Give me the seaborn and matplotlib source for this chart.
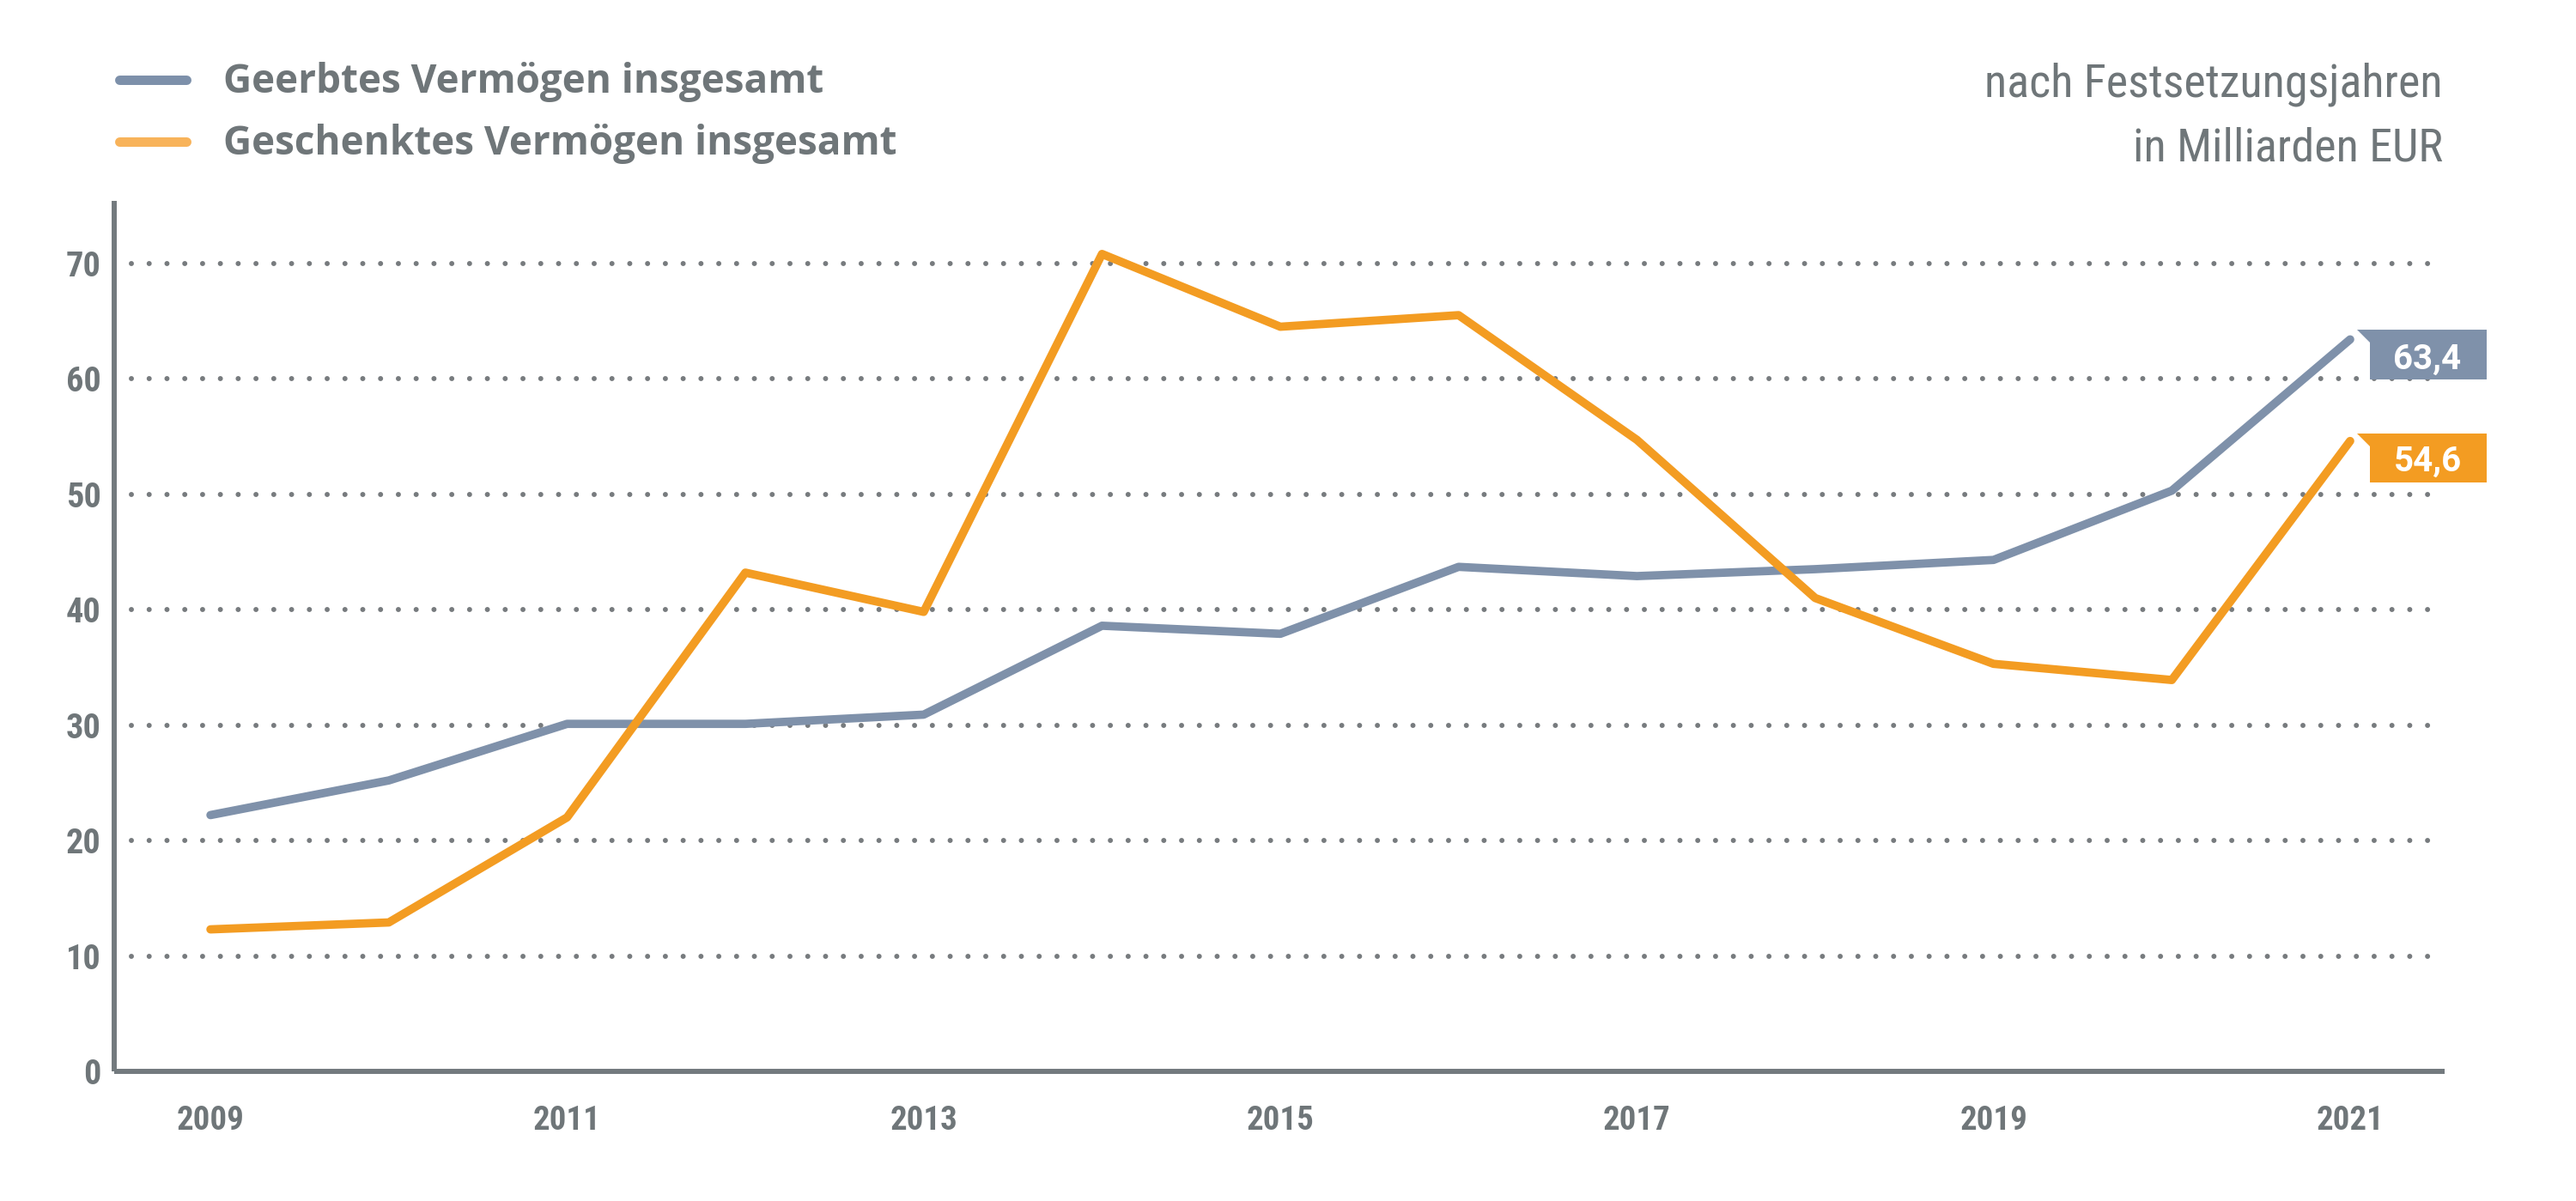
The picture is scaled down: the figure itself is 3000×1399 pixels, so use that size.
import matplotlib
matplotlib.use("Agg")
import matplotlib.pyplot as plt
import matplotlib.font_manager as fm
import matplotlib.transforms as mtransforms
from matplotlib.patches import Polygon
from matplotlib.lines import Line2D
import seaborn as sns
import pandas as pd

# ---------------- data ----------------
years = [2009, 2010, 2011, 2012, 2013, 2014, 2015, 2016, 2017, 2018, 2019, 2020, 2021]
geerbt = [22.2, 25.2, 30.1, 30.1, 30.9, 38.6, 37.9, 43.7, 42.9, 43.5, 44.3, 50.3, 63.4]
geschenkt = [12.3, 12.9, 22.0, 43.2, 39.8, 70.8, 64.5, 65.5, 54.7, 41.0, 35.3, 33.9, 54.6]
series_names = ["Geerbtes Vermögen insgesamt", "Geschenktes Vermögen insgesamt"]
end_labels = ["63,4", "54,6"]
xticks = [2009, 2011, 2013, 2015, 2017, 2019, 2021]
yticks = [0, 10, 20, 30, 40, 50, 60, 70]
note_lines = ["nach Festsetzungsjahren", "in Milliarden EUR"]

BLUE = "#7f91aa"
ORANGE = "#f39c22"
BLUE_L = "#7d90aa"
ORANGE_L = "#f8b35a"
GRAY = "#6f7679"
AXIS = "#737a7e"
DOT = "#777b7e"

sns.set_theme(style="white")

names = {f.name for f in fm.fontManager.ttflist}


def pick(cands):
    for c in cands:
        if c in names:
            return c
    return "DejaVu Sans"


COND = pick(["Roboto Condensed", "Liberation Sans Narrow", "Roboto"])
WIDE = pick(["Open Sans", "Roboto", "Lato"])
MID = pick(["Roboto", "Lato", "Open Sans"])
plt.rcParams["font.family"] = [COND, "DejaVu Sans"]

df = pd.DataFrame({
    "Jahr": years * 2,
    "Wert": geerbt + geschenkt,
    "Serie": [series_names[0]] * len(years) + [series_names[1]] * len(years),
})

fig = plt.figure(figsize=(30, 13.99), dpi=100)
ax = fig.add_axes([133 / 3000, 1 - 1248 / 1399, (2847 - 133) / 3000, (1248 - 234) / 1399])

sns.lineplot(data=df, x="Jahr", y="Wert", hue="Serie", palette=[BLUE, ORANGE],
             linewidth=7.0, ax=ax, legend=False, sort=False,
             solid_capstyle="round", solid_joinstyle="round", zorder=3)

ax.set_xlim(2008.46, 2021.53)
ax.set_ylim(0, 75.4)
ax.set_xticks(xticks)
ax.set_yticks(yticks)
ax.set_xticklabels([str(t) for t in xticks])
ax.set_yticklabels([str(t) for t in yticks])
ax.set_xlabel("")
ax.set_ylabel("")

for lab in ax.get_xticklabels() + ax.get_yticklabels():
    lab.set_fontweight("bold")
    lab.set_fontsize(28)
    lab.set_color(GRAY)
for lab in ax.get_yticklabels():
    lab.set_fontsize(29)

ax.tick_params(axis="x", length=0, pad=28)
ax.tick_params(axis="y", length=0, pad=11)

for s in ["top", "right"]:
    ax.spines[s].set_visible(False)
for s in ["left", "bottom"]:
    ax.spines[s].set_color(AXIS)
    ax.spines[s].set_linewidth(4.3)
    ax.spines[s].set_capstyle("butt")

# dotted gridlines (except 0)
x0 = 2008.46 + (153 - 133) / 207.7
for v in yticks[1:]:
    ax.plot([x0, 2021.53], [v, v], color=DOT, linewidth=4.3,
            linestyle=(0, (0.001, 3.47)), dash_capstyle="round", zorder=1)

# end labels (flag boxes)
for vals, col, txt, top, bot in [(geerbt, BLUE, end_labels[0], 11, -47),
                                 (geschenkt, ORANGE, end_labels[1], 9, -48)]:
    xd, yd = years[-1], vals[-1]
    trans = fig.dpi_scale_trans + mtransforms.ScaledTranslation(xd, yd, ax.transData)
    verts = [(8, top), (159, top), (159, bot), (23, bot), (23, top - 15)]
    verts = [(a / 100, b / 100) for a, b in verts]
    poly = Polygon(verts, closed=True, facecolor=col, edgecolor="none",
                   transform=trans, clip_on=False, zorder=4)
    ax.add_patch(poly)
    ax.text(90 / 100, (bot + 13) / 100, txt, transform=trans, ha="center",
            va="baseline", color="white", fontsize=29, fontweight="bold",
            family=[MID, "DejaVu Sans"], zorder=5, clip_on=False)

# legend (manual)
for i, (name, col) in enumerate(zip(series_names, [BLUE_L, ORANGE_L])):
    yline = [93, 165][i]
    ybase = [108, 180][i]
    fig.add_artist(Line2D([139 / 3000, 217 / 3000], [1 - yline / 1399] * 2,
                          color=col, linewidth=7.9, solid_capstyle="round",
                          transform=fig.transFigure))
    fig.text(260 / 3000, 1 - ybase / 1399, name, ha="left", va="baseline",
             fontsize=33, fontweight="bold", color=GRAY,
             family=[WIDE, "DejaVu Sans"])

# note top right
for line, yb in zip(note_lines, [113, 187]):
    fig.text(2845 / 3000, 1 - yb / 1399, line, ha="right", va="baseline",
             fontsize=39, color=GRAY)

fig.savefig("out.png", dpi=100, facecolor="white")
